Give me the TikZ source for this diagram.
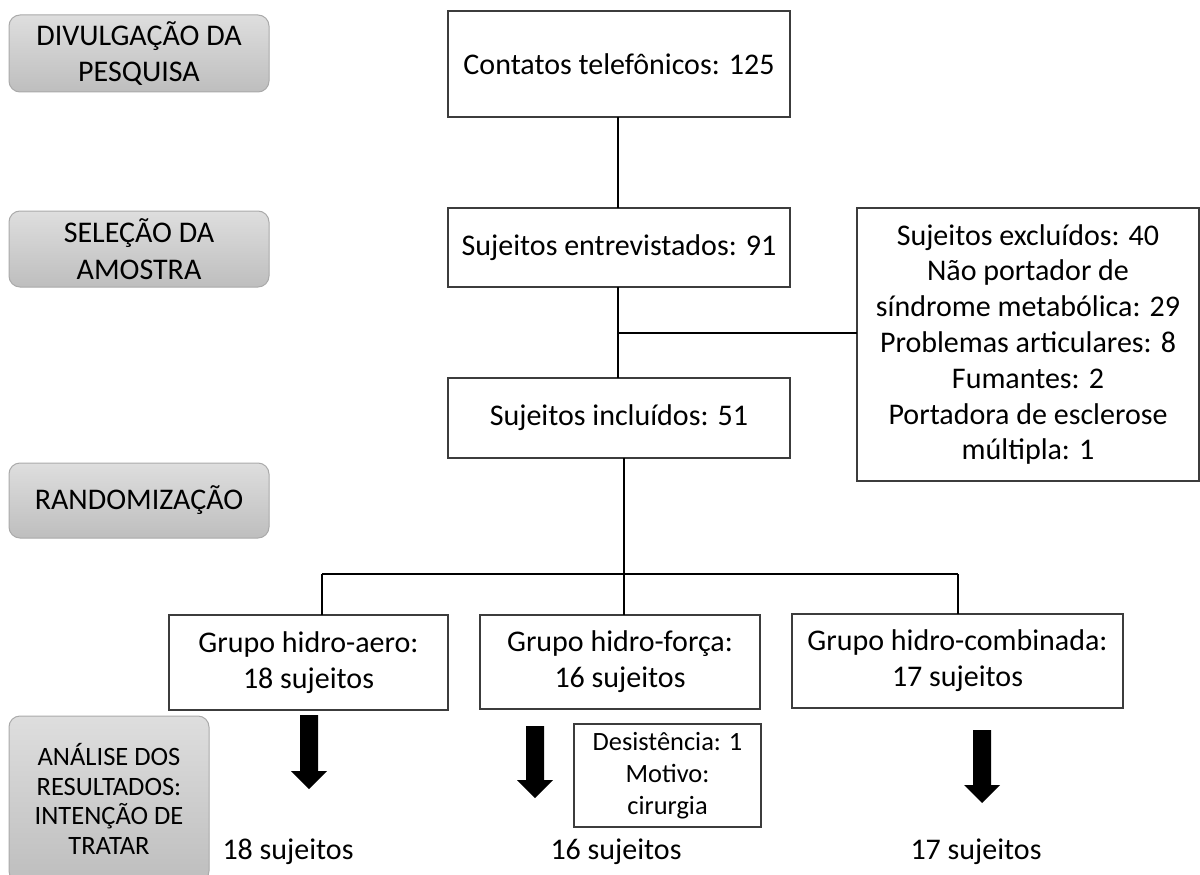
\documentclass[tikz,border=0pt]{standalone}
\usepackage{fontspec}
\setmainfont{Carlito}
\usetikzlibrary{shadings}
\definecolor{boxline}{RGB}{60,60,60}
\definecolor{graytop}{RGB}{222,222,222}
\definecolor{graybot}{RGB}{190,190,190}
\definecolor{grayedge}{RGB}{170,170,170}
\tikzset{
  stage/.style={rectangle, rounded corners=11pt, draw=grayedge, line width=1pt,
    top color=graytop, bottom color=graybot, inner sep=0pt, outer sep=0pt,
    align=center, font=\fontsize{30}{36.6}\selectfont},
  flowbox/.style={rectangle, draw=boxline, line width=1.5pt, fill=white,
    inner sep=0pt, outer sep=0pt, align=center, font=\fontsize{30}{36}\selectfont},
  link/.style={draw=black, line width=1.2pt},
  plain/.style={inner sep=0pt, outer sep=0pt, align=center, font=\fontsize{30}{36}\selectfont}
}
\newcommand\blkarrow[5]{% x, shaft top, head top, tip, head half width
  \fill[black] (#1-9,#2) -- (#1+9,#2) -- (#1+9,#3) -- (#1+#5,#3) -- (#1,#4)
    -- (#1-#5,#3) -- (#1-9,#3) -- cycle;}
\begin{document}
\begin{tikzpicture}[x=1pt,y=-1pt]
\clip (0,0) rectangle (1200,875);
\fill[white] (0,0) rectangle (1200,875);

% stage labels
\node[stage, minimum width=260pt, minimum height=77pt] (s1) at (139,53.5) {DIVULGAÇÃO DA\\PESQUISA};
\node[stage, minimum width=260pt, minimum height=76pt] (s2) at (139,249) {SELEÇÃO DA\\AMOSTRA};
\node[stage, minimum width=260pt, minimum height=75pt] (s3) at (139,500.5) {RANDOMIZAÇÃO};
\node[stage, minimum width=200pt, minimum height=166pt, font=\fontsize{26.5}{29.5}\selectfont] (s4) at (109,799) {ANÁLISE DOS\\RESULTADOS:\\INTENÇÃO DE\\TRATAR};

% main flow boxes
\node[flowbox, minimum width=342pt, minimum height=106pt] (contatos) at (619,64) {Contatos telefônicos: 125};
\node[flowbox, minimum width=342pt, minimum height=79pt] (entrev) at (619,247.5) {Sujeitos entrevistados: 91};
\node[flowbox, minimum width=342pt, minimum height=80pt] (incl) at (619,418) {Sujeitos incluídos: 51};
\node[flowbox, minimum width=342pt, minimum height=273pt, font=\fontsize{30}{35.8}\selectfont] (excl) at (1028,344.5)
  {Sujeitos excluídos: 40\\Não portador de\\síndrome metabólica: 29\\Problemas articulares: 8\\Fumantes: 2\\Portadora de esclerose\\múltipla: 1};

% groups
\node[flowbox, minimum width=279pt, minimum height=95pt] (gA) at (308.5,662.5) {Grupo hidro-aero:\\18 sujeitos};
\node[flowbox, minimum width=280pt, minimum height=94pt] (gB) at (620,662) {Grupo hidro-força:\\16 sujeitos};
\node[flowbox, minimum width=331pt, minimum height=94pt] (gC) at (957.5,661) {Grupo hidro-combinada:\\17 sujeitos};

\node[flowbox, minimum width=187pt, minimum height=103pt, font=\fontsize{26.4}{32}\selectfont] (desist) at (667.5,775.5) {Desistência: 1\\Motivo:\\cirurgia};

% results
\node[plain] (rA) at (288,852) {18 sujeitos};
\node[plain] (rB) at (616,852) {16 sujeitos};
\node[plain] (rC) at (976,852) {17 sujeitos};

% connectors
\coordinate (jx) at (618,333);
\coordinate (jb) at (624,574);
\coordinate (jl) at (322,574);
\coordinate (jr) at (958,574);
\draw[link] (contatos.south -| 618,0) -- (entrev.north -| 618,0);
\draw[link] (entrev.south -| 618,0) -- (incl.north -| 618,0);
\draw[link] (jx) -- (excl.west |- jx);
\draw[link] (incl.south -| jb) -- (jb);
\draw[link] (jl) -- (jr);
\draw[link] (jl) -- (gA.north -| jl);
\draw[link] (jb) -- (gB.north -| jb);
\draw[link] (jr) -- (gC.north -| jr);

% block arrows
\blkarrow{309}{715}{771}{789}{18}
\blkarrow{535}{726}{780}{798}{18}
\blkarrow{982}{730}{785}{803}{18}
\end{tikzpicture}
\end{document}
